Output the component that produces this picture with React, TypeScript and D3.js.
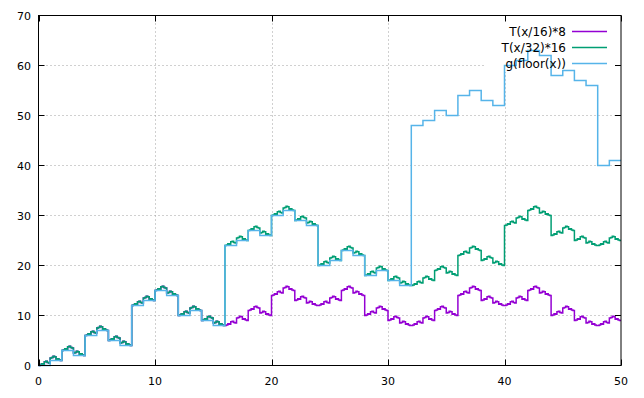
import React from 'react';
import * as d3 from 'd3';

// tick labels
const xTicks = [0, 10, 20, 30, 40, 50];
const yTicks = [0, 10, 20, 30, 40, 50, 60, 70];

// g(floor(x)): one level per unit interval, x = 0..49
const gFloor = [
  0, 1, 3, 2, 6, 7, 5, 4, 12, 13, 15, 14, 10, 11, 9, 8,
  24, 25, 27, 26, 30, 31, 29, 28, 20, 21, 23, 22, 18, 19, 17, 16,
  48, 49, 51, 50, 54, 55, 53, 52, 60, 61, 63, 62, 58, 59, 57, 56,
  40, 41,
];

// T(x/32)*16: base level of each unit step (the little "house" is added on top)
const t32Levels = [
  0, 1, 3, 2, 6, 7, 5, 4, 12, 13, 15, 14, 10, 11, 9, 8,
  24, 25, 27, 26, 30, 31, 29, 28, 20, 21, 23, 22, 18, 19, 17, 16,
  16, 17, 19, 18, 22, 23, 21, 20, 28, 29, 31, 30, 26, 27, 25, 24,
  24, 25,
];

// T(x/16)*8: base level of each unit step
const t16Levels = [
  0, 1, 3, 2, 6, 7, 5, 4, 12, 13, 15, 14, 10, 11, 9, 8,
  8, 9, 11, 10, 14, 15, 13, 12, 12, 13, 15, 14, 10, 11, 9, 8,
  8, 9, 11, 10, 14, 15, 13, 12, 12, 13, 15, 14, 10, 11, 9, 8,
  8, 9,
];

// shape of the small bump inside one unit, in eighths of a unit
const bumpEven = [0, 0.125, 0.375, 0.25, 0.75, 0.875, 0.625, 0.5];
const bumpOdd = [0.5, 0.625, 0.875, 0.75, 0.25, 0.375, 0.125, 0];

const seriesNames = ['T(x/16)*8', 'T(x/32)*16', 'g(floor(x))'];
const seriesColors = ['#9400d3', '#009e73', '#56b4e9'];

const W = 644;
const H = 398;
const left = 38.5;
const right = 621;
const top = 15.5;
const bottom = 365.5;
const font = "'DejaVu Sans', Verdana, sans-serif";

type P = [number, number];

function withBumps(levels: number[]): P[] {
  const pts: P[] = [];
  levels.forEach((v, k) => {
    const bump = k % 2 === 0 ? bumpEven : bumpOdd;
    bump.forEach((b, j) => pts.push([k + j / bump.length, v + b]));
  });
  const last = pts[pts.length - 1];
  pts.push([levels.length, last[1]]);
  return pts;
}

function steps(levels: number[]): P[] {
  const pts: P[] = levels.map((v, k) => [k, v] as P);
  pts.push([levels.length, levels[levels.length - 1]]);
  return pts;
}

export default function App() {
  const x = d3.scaleLinear().domain([0, 50]).range([left, right]);
  const y = d3.scaleLinear().domain([0, 70]).range([bottom, top]);

  const line = d3.line<P>()
    .x(d => x(d[0]))
    .y(d => y(d[1]))
    .curve(d3.curveStepAfter);

  const data: P[][] = [withBumps(t16Levels), withBumps(t32Levels), steps(gFloor)];

  // key box (grid is hidden behind it)
  const keyX0 = 486;
  const keyRows = [31, 47, 63];
  const keyTextX = 566;
  const keySample = [572, 607];

  return (
    <svg width={W} height={H} style={{ position: 'absolute', left: 0, top: 0 }}>
      <rect x={0} y={0} width={W} height={H} fill="#fff" />
      <g stroke="#a0a0a0" strokeWidth={1} strokeDasharray="1,3">
        {xTicks.slice(1, -1).map(t => (
          <line key={'gx' + t} x1={Math.round(x(t)) + 0.5} x2={Math.round(x(t)) + 0.5} y1={top} y2={bottom} />
        ))}
        {yTicks.slice(1, -1).map(t => (
          <line key={'gy' + t} x1={left} x2={right} y1={y(t)} y2={y(t)} />
        ))}
      </g>
      <rect x={keyX0} y={top + 0.5} width={right - keyX0 - 0.5} height={56} fill="#fff" />

      {data.map((pts, i) => (
        <path key={i} d={line(pts) || ''} fill="none" stroke={seriesColors[i]} strokeWidth={1.5} />
      ))}

      <rect x={left} y={top} width={right - left} height={bottom - top} fill="none" stroke="#000" strokeWidth={1} />
      <g stroke="#000" strokeWidth={1}>
        {xTicks.map(t => (
          <g key={'tx' + t}>
            <line x1={Math.round(x(t)) + 0.5} x2={Math.round(x(t)) + 0.5} y1={bottom} y2={bottom - 6} />
            <line x1={Math.round(x(t)) + 0.5} x2={Math.round(x(t)) + 0.5} y1={top} y2={top + 6} />
          </g>
        ))}
        {yTicks.map(t => (
          <g key={'ty' + t}>
            <line x1={left} x2={left + 6} y1={y(t)} y2={y(t)} />
            <line x1={right} x2={right - 6} y1={y(t)} y2={y(t)} />
          </g>
        ))}
      </g>

      <g fontFamily={font} fontSize={11} fill="#000">
        {xTicks.map(t => (
          <text key={'lx' + t} x={x(t)} y={385} textAnchor="middle">{t}</text>
        ))}
        {yTicks.map(t => (
          <text key={'ly' + t} x={31} y={y(t) + 4} textAnchor="end">{t}</text>
        ))}
      </g>

      <g fontFamily={font} fontSize={12} fill="#000">
        {seriesNames.map((name, i) => (
          <g key={name}>
            <text x={keyTextX} y={keyRows[i] + 4.5} textAnchor="end">{name}</text>
            <line x1={keySample[0]} x2={keySample[1]} y1={keyRows[i] + 0.5} y2={keyRows[i] + 0.5} stroke={seriesColors[i]} strokeWidth={1.5} />
          </g>
        ))}
      </g>
    </svg>
  );
}
